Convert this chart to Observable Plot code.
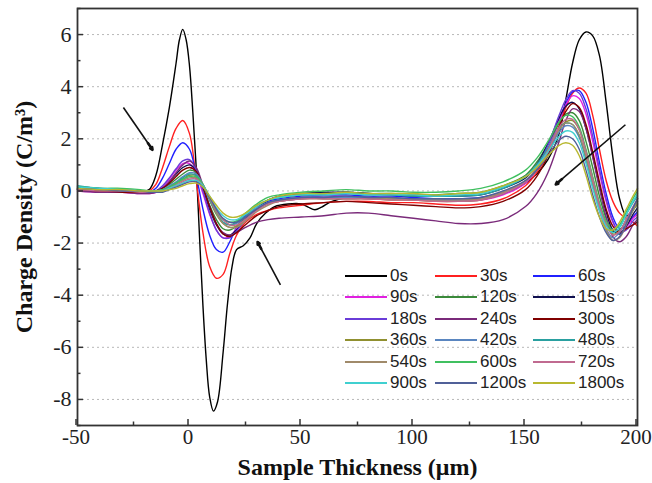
<!DOCTYPE html>
<html><head><meta charset="utf-8">
<script src="https://cdn.jsdelivr.net/npm/d3@7"></script>
<script src="https://cdn.jsdelivr.net/npm/@observablehq/plot@0.6"></script>
<style>
body{margin:0;background:#fff;}
#wrap{position:relative;width:652px;height:483px;overflow:hidden;}
#legend{position:absolute;left:0;top:0;width:652px;height:483px;pointer-events:none;font-family:"Liberation Sans",Arial,sans-serif;font-size:17px;color:#222;}
.item{position:absolute;display:flex;align-items:center;height:20px;white-space:nowrap;}
.sw{width:42px;height:2px;margin-right:3px;}
</style></head><body>
<div id="wrap"><div id="legend"></div></div>
<script>
const series = ["0s","30s","60s","90s","120s","150s","180s","240s","300s","360s","420s","480s","540s","600s","720s","900s","1200s","1800s"];
const colors = ["#000000","#ff2020","#2020ff","#e020e0","#3a8a3a","#101050","#6a3cd8","#7a2a7a","#800000","#909030","#5a86c0","#2aa0a0","#a08a6a","#40c060","#c06a90","#40d0d0","#506098","#b8b830"];

const xBlack = [-50,-40,-30,-22,-18,-15,-12,-9,-6,-4.5,-3,-1.5,0,1.5,3,4.5,6,7.5,9,10.7,12.5,15,17,19,21,24,27,30,34,38,44,50,53,56,59,63,70,80,90,100,110,120,130,140,150,155,160,165,168,171,174,177,180,183,186,189,192,195,198,200];
const xGrid = [-50,-40,-30,-22,-18,-15,-12,-9,-6,-3,0,3,6,9,12,15,18,21,25,30,35,40,50,60,70,80,90,100,110,120,130,140,150,155,160,165,168,171,174,177,180,183,186,189,192,195,198,200];

const y0s = [0.05,0.0,-0.05,-0.05,0.05, 0.6,1.8,3.2,4.9,5.8, 6.2,5.8,4.8,3.0,0.9, -1.8,-4.4,-6.5,-7.9,-8.45, -8.1,-6.2,-4.3,-2.9,-2.25, -2.1,-1.8,-1.25,-0.85,-0.6, -0.5,-0.5,-0.62,-0.72,-0.62, -0.42,-0.25,-0.25,-0.3,-0.3, -0.3,-0.35,-0.3,-0.1,0.3, 0.65,1.2,2.2,3.5,4.9, 5.8,6.1,5.95,5.2,3.4, 1.3,-0.3,-0.95,-0.7,-0.3];
const y30s = [0.05,0.0,-0.05,-0.05,0.0, 0.25,0.9,1.7,2.4,2.7, 2.2,0.4,-1.6,-2.9,-3.35, -3.2,-2.4,-1.7,-1.2,-0.9, -0.75,-0.65,-0.55,-0.45,-0.4, -0.4,-0.45,-0.45,-0.5,-0.55, -0.5,-0.3,0.2,0.7,1.4, 2.5,3.2,3.75,3.95,3.75, 2.9,1.6,0.4,-0.4,-0.85, -1.05,-1.2,-1.35];
const y60s = [0.1,0.05,0.0,-0.05,-0.05, 0.1,0.5,1.05,1.6,1.85, 1.6,0.6,-0.7,-1.7,-2.25, -2.35,-1.95,-1.4,-0.95,-0.6, -0.4,-0.3,-0.2,-0.15,-0.15, -0.2,-0.2,-0.25,-0.3,-0.3, -0.25,-0.05,0.35,0.85,1.6, 2.7,3.35,3.8,3.85,3.4, 2.4,1.1,-0.1,-1.0,-1.45, -1.35,-1.0,-0.8];
const y90s = [0.0,-0.05,-0.05,-0.1,-0.1, -0.05,0.15,0.45,0.8,1.05, 1.05,0.65,-0.1,-0.9,-1.5, -1.8,-1.75,-1.45,-1.05,-0.7, -0.5,-0.4,-0.3,-0.25,-0.25, -0.3,-0.3,-0.35,-0.35,-0.4, -0.35,-0.15,0.3,0.8,1.6, 2.7,3.3,3.65,3.55,2.95, 1.9,0.7,-0.4,-1.2,-1.6, -1.4,-1.05,-0.9];
const y120s = [0.15,0.1,0.05,0.0,0.0, 0.0,0.1,0.25,0.45,0.65, 0.8,0.7,0.15,-0.55,-1.1, -1.45,-1.5,-1.35,-1.0,-0.6, -0.35,-0.25,-0.15,-0.1,-0.05, -0.1,-0.1,-0.15,-0.15,-0.1, -0.05,0.2,0.6,1.1,1.8, 2.6,2.95,3.0,2.7,1.9, 0.9,-0.2,-1.05,-1.55,-1.5, -1.15,-0.75,-0.5];
const y150s = [0.1,0.05,0.0,-0.05,-0.05, 0.0,0.1,0.35,0.65,0.9, 1.0,0.8,0.1,-0.7,-1.3, -1.65,-1.7,-1.5,-1.1,-0.65, -0.35,-0.2,-0.1,-0.05,-0.05, -0.1,-0.15,-0.2,-0.2,-0.2, -0.15,0.1,0.5,1.0,1.8, 2.8,3.25,3.4,3.15,2.4, 1.35,0.2,-0.8,-1.5,-1.65, -1.35,-0.9,-0.65];
const y180s = [0.05,0.0,-0.05,-0.05,-0.05, 0.0,0.2,0.5,0.85,1.15, 1.2,0.8,0.0,-0.85,-1.5, -1.8,-1.8,-1.55,-1.1,-0.7, -0.45,-0.35,-0.25,-0.2,-0.2, -0.25,-0.25,-0.3,-0.3,-0.35, -0.3,-0.1,0.35,0.9,1.75, 2.9,3.5,3.85,3.75,3.15, 2.1,0.85,-0.3,-1.15,-1.6, -1.5,-1.15,-1.0];
const y240s = [0.0,-0.05,-0.05,-0.1,-0.1, -0.05,0.1,0.35,0.7,1.0, 1.15,0.9,0.2,-0.6,-1.25, -1.6,-1.7,-1.6,-1.4,-1.2, -1.1,-1.05,-1.0,-0.95,-0.85, -0.85,-0.95,-1.05,-1.15,-1.25, -1.25,-1.1,-0.6,-0.1,0.7, 1.9,2.7,3.15,3.05,2.4, 1.3,0.1,-1.0,-1.75,-1.95, -1.75,-1.3,-1.1];
const y300s = [0.05,0.0,-0.05,-0.05,-0.05, 0.0,0.1,0.3,0.55,0.8, 0.9,0.75,0.15,-0.6,-1.25, -1.65,-1.75,-1.6,-1.3,-0.95, -0.75,-0.6,-0.5,-0.45,-0.4, -0.45,-0.5,-0.55,-0.6,-0.65, -0.6,-0.4,0.05,0.55,1.35, 2.45,3.05,3.35,3.2,2.55, 1.5,0.35,-0.7,-1.35,-1.6, -1.45,-1.3,-1.2];
const y360s = [0.1,0.05,0.05,0.0,0.0, 0.0,0.05,0.15,0.3,0.45, 0.6,0.6,0.25,-0.35,-0.9, -1.25,-1.4,-1.35,-1.1,-0.75, -0.5,-0.4,-0.3,-0.3,-0.3, -0.3,-0.35,-0.35,-0.4,-0.4, -0.35,-0.1,0.35,0.8,1.5, 2.35,2.65,2.7,2.35,1.5, 0.5,-0.5,-1.25,-1.65,-1.55, -1.1,-0.7,-0.5];
const y420s = [0.15,0.1,0.05,0.0,0.0, 0.0,0.05,0.2,0.35,0.55, 0.7,0.65,0.25,-0.35,-0.85, -1.2,-1.3,-1.25,-1.0,-0.65, -0.45,-0.35,-0.25,-0.25,-0.25, -0.25,-0.3,-0.3,-0.35,-0.35, -0.3,-0.05,0.4,0.85,1.5, 2.25,2.5,2.45,2.05,1.2, 0.2,-0.75,-1.45,-1.8,-1.6, -1.1,-0.65,-0.4];
const y480s = [0.2,0.1,0.05,0.0,0.0, 0.0,0.05,0.15,0.3,0.5, 0.65,0.6,0.2,-0.35,-0.85, -1.2,-1.3,-1.2,-0.9,-0.55, -0.35,-0.25,-0.15,-0.15,-0.1, -0.15,-0.15,-0.2,-0.2,-0.2, -0.15,0.1,0.55,1.0,1.65, 2.4,2.6,2.55,2.1,1.25, 0.3,-0.6,-1.3,-1.6,-1.4, -0.9,-0.45,-0.2];
const y540s = [0.1,0.05,0.0,0.0,-0.05, -0.05,0.0,0.1,0.25,0.4, 0.5,0.5,0.2,-0.3,-0.85, -1.25,-1.4,-1.4,-1.15,-0.8, -0.55,-0.4,-0.3,-0.3,-0.3, -0.3,-0.3,-0.35,-0.35,-0.35, -0.3,-0.05,0.4,0.85,1.55, 2.35,2.6,2.55,2.15,1.3, 0.3,-0.7,-1.5,-1.9,-1.8, -1.3,-0.75,-0.4];
const y600s = [0.15,0.1,0.1,0.05,0.0, 0.0,0.05,0.15,0.3,0.45, 0.55,0.55,0.25,-0.25,-0.75, -1.1,-1.2,-1.15,-0.85,-0.5, -0.25,-0.15,-0.05,0.0,0.05, 0.0,0.0,-0.05,-0.05,0.0, 0.1,0.35,0.8,1.25,1.9, 2.65,2.9,2.85,2.45,1.6, 0.55,-0.45,-1.15,-1.5,-1.3, -0.8,-0.3,0.0];
const y720s = [0.05,0.0,0.0,-0.05,-0.05, -0.05,0.0,0.1,0.2,0.35, 0.45,0.45,0.2,-0.25,-0.75, -1.1,-1.3,-1.3,-1.1,-0.75, -0.5,-0.4,-0.3,-0.3,-0.3, -0.3,-0.35,-0.35,-0.4,-0.4, -0.35,-0.1,0.35,0.8,1.55, 2.45,2.75,2.75,2.35,1.5, 0.45,-0.55,-1.3,-1.7,-1.55, -1.1,-0.6,-0.3];
const y900s = [0.15,0.1,0.05,0.0,0.0, 0.0,0.0,0.1,0.2,0.3, 0.4,0.4,0.2,-0.2,-0.65, -0.95,-1.1,-1.1,-0.9,-0.6, -0.35,-0.25,-0.15,-0.15,-0.1, -0.15,-0.15,-0.15,-0.2,-0.15, -0.1,0.15,0.55,0.95,1.5, 2.1,2.3,2.25,1.85,1.05, 0.1,-0.75,-1.35,-1.6,-1.4, -0.9,-0.4,-0.1];
const y1200s = [0.1,0.05,0.0,0.0,-0.05, -0.05,-0.05,0.05,0.15,0.25, 0.35,0.35,0.15,-0.25,-0.7, -1.05,-1.2,-1.2,-1.0,-0.7, -0.45,-0.35,-0.25,-0.25,-0.2, -0.25,-0.25,-0.3,-0.3,-0.3, -0.25,0.0,0.4,0.8,1.35, 1.95,2.1,2.0,1.6,0.8, -0.15,-1.0,-1.6,-1.9,-1.75, -1.25,-0.65,-0.3];
const y1800s = [0.1,0.05,0.05,0.0,0.0, 0.0,0.0,0.05,0.1,0.2, 0.28,0.3,0.15,-0.2,-0.55, -0.85,-1.0,-1.0,-0.85,-0.55, -0.35,-0.2,-0.1,-0.1,-0.05, -0.1,-0.1,-0.1,-0.15,-0.1, -0.05,0.2,0.55,0.9,1.35, 1.75,1.85,1.75,1.35,0.6, -0.3,-1.0,-1.45,-1.5,-1.2, -0.7,-0.2,0.1];

const values = [y0s,y30s,y60s,y90s,y120s,y150s,y180s,y240s,y300s,y360s,y420s,y480s,y540s,y600s,y720s,y900s,y1200s,y1800s];

const xMajor = [-50,0,50,100,150,200];
const xMinor = [-25,25,75,125,175];
const yMajor = [-8,-6,-4,-2,0,2,4,6];
const yMinor = [-9,-7,-5,-3,-1,1,3,5,7];

// annotation arrows: tail -> tip
const arrows = [
  {x1:-29.5, y1:3.2, x2:-16.5, y2:1.58, dash:"6,4", f:0.16},
  {x1:40.6, y1:-3.6, x2:30.4, y2:-1.96, dash:"6,4", f:0.16},
  {x1:194.6, y1:2.54, x2:163.5, y2:0.25, dash:"10,4,2,4", f:0.09}
];
const heads = arrows.map(a => ({x1: a.x2 + a.f*(a.x1-a.x2), y1: a.y2 + a.f*(a.y1-a.y2), x2: a.x2, y2: a.y2}));

const rows = [];
series.forEach((s,i) => {
  const xs = i === 0 ? xBlack : xGrid;
  values[i].forEach((v,j) => rows.push({t:s, x:xs[j], y:v}));
});

const plot = Plot.plot({
  width:652, height:483,
  marginLeft:77, marginRight:15, marginTop:8, marginBottom:58,
  style:{fontFamily:'"Liberation Serif","Times New Roman",serif', fontSize:"22px", color:"#222", background:"#fff", overflow:"visible"},
  x:{domain:[-50,200]},
  y:{domain:[-9,7]},
  color:{domain:series, range:colors},
  marks:[
    Plot.ruleY(yMajor, {stroke:"#b8b8b8", strokeDasharray:"2,3", strokeWidth:1}),
    Plot.line(rows, {x:"x", y:"y", z:"t", stroke:"t", curve:"catmull-rom", strokeWidth:1.4}),
    Plot.link(arrows, {x1:"x1", y1:"y1", x2:"x2", y2:"y2", stroke:"#111", strokeWidth:1.6, strokeDasharray:d=>d.dash}),
    Plot.arrow(heads, {x1:"x1", y1:"y1", x2:"x2", y2:"y2", stroke:"#111", strokeWidth:2.6, headLength:9, headAngle:50}),
    Plot.frame({stroke:"#333", strokeWidth:1.8}),
    Plot.axisX(xMajor, {tickSize:-6, tickPadding:10, label:null, stroke:"#333", strokeWidth:1.5, fontSize:21, textAnchor:"middle", dx:-1.5, tickFormat:d=>String(d)}),
    Plot.axisX(xMinor, {tickSize:-3.5, label:null, stroke:"#333", strokeWidth:1.5, tickFormat:()=>""}),
    Plot.axisY(yMajor, {tickSize:-6, tickPadding:12, label:null, stroke:"#333", strokeWidth:1.5, tickFormat:d=>String(d)}),
    Plot.axisY(yMinor, {tickSize:-3.5, label:null, stroke:"#333", strokeWidth:1.5, tickFormat:()=>""}),
    Plot.text(["Charge Density (C/m³)"], {frameAnchor:"left", dx:-53, rotate:-90, textAnchor:"middle", lineAnchor:"middle", fontWeight:"bold", fontSize:24, fill:"#111"}),
    Plot.text(["Sample Thickness (μm)"], {frameAnchor:"bottom", dy:42, textAnchor:"middle", lineAnchor:"middle", fontWeight:"bold", fontSize:24, fill:"#111"})
  ]
});
document.getElementById("wrap").prepend(plot);

const legend = document.getElementById("legend");
const colX = [345, 435, 533];
series.forEach((s,i) => {
  const col = i % 3, row = Math.floor(i / 3);
  const it = document.createElement("div");
  it.className = "item";
  it.style.left = colX[col] + "px";
  it.style.top = (266 + row*21.4) + "px";
  const sw = document.createElement("div");
  sw.className = "sw";
  sw.style.background = colors[i];
  const tx = document.createElement("span");
  tx.textContent = s;
  it.appendChild(sw); it.appendChild(tx);
  legend.appendChild(it);
});
</script>
</body></html>
